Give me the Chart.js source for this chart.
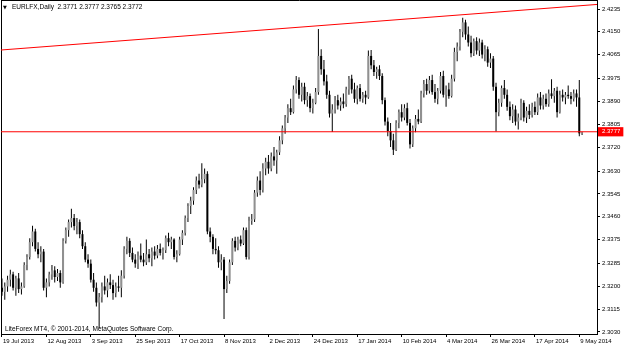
<!DOCTYPE html>
<html>
<head>
<meta charset="utf-8">
<script src="https://cdn.jsdelivr.net/npm/chart.js@4.4.1/dist/chart.umd.min.js"></script>
<style>
  html, body { margin: 0; padding: 0; background: #fff; }
  #wrap { position: relative; width: 625px; height: 347px; }
  #chart { position: absolute; left: 0; top: 0; }
  .txt { position: absolute; font-family: "Liberation Sans", Arial, sans-serif; color: #000; white-space: pre; line-height: 8px; }
</style>
</head>
<body>
<div id="wrap">
  <canvas id="chart" width="625" height="347"></canvas>
  <div class="txt" style="left:3px;top:3px;font-size:5px;font-family:'DejaVu Sans'">▼</div>
  <div class="txt" id="title" style="left:12px;top:3px;font-size:6.5px"></div>
  <div class="txt" style="left:5px;top:325px;font-size:6.55px">LiteForex MT4, © 2001-2014, MetaQuotes Software Corp.</div>
</div>
<script>
// daily bars, 19 Jul 2013 .. 12 May 2014
const opens = [
  2.3195, 2.3180, 2.3200, 2.3225, 2.3245, 2.3195, 2.3230, 2.3190, 2.3200, 2.3280,
  2.3310, 2.3365, 2.3405, 2.3340, 2.3320, 2.3330, 2.3195, 2.3215, 2.3245, 2.3260,
  2.3235, 2.3250, 2.3215, 2.3370, 2.3410, 2.3440, 2.3455, 2.3425, 2.3440, 2.3395,
  2.3350, 2.3300, 2.3285, 2.3225, 2.3195, 2.3140, 2.3160, 2.3200, 2.3185, 2.3215,
  2.3205, 2.3175, 2.3200, 2.3195, 2.3240, 2.3340, 2.3370, 2.3325, 2.3300, 2.3285,
  2.3315, 2.3300, 2.3290, 2.3320, 2.3305, 2.3330, 2.3315, 2.3340, 2.3325, 2.3335,
  2.3380, 2.3365, 2.3375, 2.3310, 2.3320, 2.3375, 2.3400, 2.3455, 2.3500, 2.3520,
  2.3560, 2.3595, 2.3580, 2.3600, 2.3620, 2.3405, 2.3385, 2.3340, 2.3335, 2.3290,
  2.3300, 2.3190, 2.3220, 2.3290, 2.3370, 2.3345, 2.3375, 2.3360, 2.3410, 2.3310,
  2.3445, 2.3450, 2.3550, 2.3595, 2.3560, 2.3640, 2.3665, 2.3640, 2.3685, 2.3670,
  2.3700, 2.3745, 2.3790, 2.3830, 2.3865, 2.3850, 2.3935, 2.3970, 2.3915, 2.3945,
  2.3895, 2.3910, 2.3865, 2.3885, 2.3925, 2.4060, 2.4010, 2.3965, 2.3915, 2.3845,
  2.3860, 2.3895, 2.3875, 2.3890, 2.3880, 2.3935, 2.3975, 2.3935, 2.3900, 2.3940,
  2.3900, 2.3915, 2.3905, 2.4060, 2.4025, 2.4000, 2.4010, 2.3985, 2.3895, 2.3815,
  2.3780, 2.3745, 2.3710, 2.3810, 2.3850, 2.3830, 2.3865, 2.3810, 2.3730, 2.3790,
  2.3825, 2.3815, 2.3920, 2.3955, 2.3930, 2.3970, 2.3925, 2.3900, 2.3930, 2.3985,
  2.3915, 2.3935, 2.3910, 2.3975, 2.4075, 2.4095, 2.4150, 2.4185, 2.4140, 2.4110,
  2.4070, 2.4115, 2.4080, 2.4110, 2.4065, 2.4085, 2.4035, 2.4050, 2.3945, 2.3850,
  2.3885, 2.3940, 2.3915, 2.3870, 2.3835, 2.3860, 2.3815, 2.3830, 2.3885, 2.3830,
  2.3855, 2.3840, 2.3870, 2.3850, 2.3905, 2.3875, 2.3900, 2.3880, 2.3920, 2.3910,
  2.3930, 2.3850, 2.3915, 2.3905, 2.3915, 2.3910, 2.3900, 2.3920, 2.3905, 2.3771
];
const highs = [
  2.3230, 2.3215, 2.3240, 2.3262, 2.3255, 2.3240, 2.3250, 2.3215, 2.3290, 2.3320,
  2.3380, 2.3426, 2.3415, 2.3365, 2.3350, 2.3340, 2.3230, 2.3255, 2.3280, 2.3275,
  2.3265, 2.3260, 2.3380, 2.3420, 2.3450, 2.3490, 2.3470, 2.3455, 2.3450, 2.3410,
  2.3365, 2.3320, 2.3300, 2.3250, 2.3215, 2.3175, 2.3215, 2.3240, 2.3230, 2.3245,
  2.3225, 2.3215, 2.3240, 2.3260, 2.3350, 2.3385, 2.3380, 2.3345, 2.3320, 2.3330,
  2.3360, 2.3325, 2.3375, 2.3340, 2.3345, 2.3350, 2.3355, 2.3360, 2.3345, 2.3390,
  2.3400, 2.3385, 2.3380, 2.3335, 2.3385, 2.3410, 2.3465, 2.3510, 2.3535, 2.3570,
  2.3610, 2.3620, 2.3660, 2.3640, 2.3630, 2.3420, 2.3395, 2.3380, 2.3350, 2.3320,
  2.3310, 2.3240, 2.3300, 2.3380, 2.3385, 2.3385, 2.3390, 2.3420, 2.3420, 2.3460,
  2.3470, 2.3560, 2.3610, 2.3630, 2.3660, 2.3680, 2.3690, 2.3700, 2.3720, 2.3710,
  2.3760, 2.3800, 2.3840, 2.3880, 2.3900, 2.3950, 2.3985, 2.3980, 2.3960, 2.3960,
  2.3925, 2.3920, 2.3900, 2.3940, 2.4160, 2.4085, 2.4045, 2.3990, 2.3930, 2.3880,
  2.3910, 2.3915, 2.3905, 2.3920, 2.3945, 2.3985, 2.3990, 2.3960, 2.3950, 2.3955,
  2.3925, 2.3930, 2.4080, 2.4082, 2.4045, 2.4020, 2.4025, 2.3995, 2.3905, 2.3830,
  2.3810, 2.3770, 2.3820, 2.3860, 2.3880, 2.3880, 2.3885, 2.3825, 2.3800, 2.3840,
  2.3860, 2.3930, 2.3970, 2.3975, 2.3985, 2.3990, 2.3955, 2.3940, 2.4000, 2.4005,
  2.3950, 2.3960, 2.3990, 2.4090, 2.4110, 2.4160, 2.4202, 2.4195, 2.4170, 2.4135,
  2.4125, 2.4130, 2.4125, 2.4120, 2.4100, 2.4095, 2.4070, 2.4060, 2.3960, 2.3900,
  2.3950, 2.3970, 2.3935, 2.3890, 2.3880, 2.3875, 2.3845, 2.3900, 2.3895, 2.3870,
  2.3880, 2.3885, 2.3890, 2.3920, 2.3925, 2.3915, 2.3920, 2.3935, 2.3973, 2.3940,
  2.3945, 2.3930, 2.3935, 2.3925, 2.3950, 2.3925, 2.3935, 2.3935, 2.3970, 2.3777
];
const lows = [
  2.3165, 2.3150, 2.3180, 2.3200, 2.3185, 2.3165, 2.3175, 2.3170, 2.3195, 2.3260,
  2.3300, 2.3350, 2.3330, 2.3305, 2.3290, 2.3185, 2.3160, 2.3200, 2.3225, 2.3215,
  2.3220, 2.3195, 2.3210, 2.3360, 2.3385, 2.3420, 2.3410, 2.3395, 2.3380, 2.3340,
  2.3290, 2.3270, 2.3215, 2.3180, 2.3125, 2.3045, 2.3140, 2.3170, 2.3160, 2.3190,
  2.3150, 2.3160, 2.3180, 2.3160, 2.3230, 2.3320, 2.3310, 2.3290, 2.3270, 2.3265,
  2.3290, 2.3275, 2.3280, 2.3290, 2.3275, 2.3300, 2.3305, 2.3315, 2.3300, 2.3325,
  2.3350, 2.3340, 2.3300, 2.3290, 2.3315, 2.3355, 2.3390, 2.3440, 2.3470, 2.3505,
  2.3545, 2.3565, 2.3570, 2.3585, 2.3395, 2.3365, 2.3320, 2.3320, 2.3270, 2.3260,
  2.3078, 2.3175, 2.3210, 2.3280, 2.3330, 2.3335, 2.3350, 2.3355, 2.3300, 2.3300,
  2.3430, 2.3440, 2.3535, 2.3540, 2.3550, 2.3615, 2.3620, 2.3630, 2.3650, 2.3620,
  2.3690, 2.3730, 2.3770, 2.3810, 2.3840, 2.3845, 2.3920, 2.3900, 2.3890, 2.3880,
  2.3870, 2.3850, 2.3845, 2.3880, 2.3915, 2.3990, 2.3950, 2.3900, 2.3830, 2.3776,
  2.3845, 2.3860, 2.3855, 2.3865, 2.3870, 2.3915, 2.3920, 2.3885, 2.3880, 2.3890,
  2.3885, 2.3880, 2.3900, 2.4010, 2.3985, 2.3975, 2.3970, 2.3880, 2.3800, 2.3760,
  2.3720, 2.3690, 2.3705, 2.3790, 2.3815, 2.3820, 2.3800, 2.3715, 2.3720, 2.3775,
  2.3805, 2.3810, 2.3905, 2.3915, 2.3920, 2.3915, 2.3885, 2.3880, 2.3920, 2.3905,
  2.3870, 2.3900, 2.3905, 2.3965, 2.4040, 2.4080, 2.4130, 2.4120, 2.4095, 2.4055,
  2.4060, 2.4065, 2.4060, 2.4050, 2.4040, 2.4020, 2.4015, 2.3930, 2.3778, 2.3835,
  2.3870, 2.3900, 2.3855, 2.3820, 2.3810, 2.3800, 2.3785, 2.3820, 2.3815, 2.3810,
  2.3825, 2.3830, 2.3840, 2.3840, 2.3860, 2.3860, 2.3870, 2.3870, 2.3900, 2.3885,
  2.3830, 2.3845, 2.3890, 2.3880, 2.3900, 2.3880, 2.3890, 2.3870, 2.3760, 2.3765
];
const closes = [
  2.3180, 2.3200, 2.3225, 2.3245, 2.3195, 2.3230, 2.3190, 2.3200, 2.3280, 2.3310,
  2.3365, 2.3405, 2.3340, 2.3320, 2.3330, 2.3195, 2.3215, 2.3245, 2.3260, 2.3235,
  2.3250, 2.3215, 2.3370, 2.3410, 2.3440, 2.3455, 2.3425, 2.3440, 2.3395, 2.3350,
  2.3300, 2.3285, 2.3225, 2.3195, 2.3140, 2.3160, 2.3200, 2.3185, 2.3215, 2.3205,
  2.3175, 2.3200, 2.3195, 2.3240, 2.3340, 2.3370, 2.3325, 2.3300, 2.3285, 2.3315,
  2.3300, 2.3290, 2.3320, 2.3305, 2.3330, 2.3315, 2.3340, 2.3325, 2.3335, 2.3380,
  2.3365, 2.3375, 2.3310, 2.3320, 2.3375, 2.3400, 2.3455, 2.3500, 2.3520, 2.3560,
  2.3595, 2.3580, 2.3600, 2.3620, 2.3405, 2.3385, 2.3340, 2.3335, 2.3290, 2.3300,
  2.3190, 2.3220, 2.3290, 2.3370, 2.3345, 2.3375, 2.3360, 2.3410, 2.3310, 2.3445,
  2.3450, 2.3550, 2.3595, 2.3560, 2.3640, 2.3665, 2.3640, 2.3685, 2.3670, 2.3700,
  2.3745, 2.3790, 2.3830, 2.3865, 2.3850, 2.3935, 2.3970, 2.3915, 2.3945, 2.3895,
  2.3910, 2.3865, 2.3885, 2.3925, 2.4060, 2.4010, 2.3965, 2.3915, 2.3845, 2.3860,
  2.3895, 2.3875, 2.3890, 2.3880, 2.3935, 2.3975, 2.3935, 2.3900, 2.3940, 2.3900,
  2.3915, 2.3905, 2.4060, 2.4025, 2.4000, 2.4010, 2.3985, 2.3895, 2.3815, 2.3780,
  2.3745, 2.3710, 2.3810, 2.3850, 2.3830, 2.3865, 2.3810, 2.3730, 2.3790, 2.3825,
  2.3815, 2.3920, 2.3955, 2.3930, 2.3970, 2.3925, 2.3900, 2.3930, 2.3985, 2.3915,
  2.3935, 2.3910, 2.3975, 2.4075, 2.4095, 2.4150, 2.4185, 2.4140, 2.4110, 2.4070,
  2.4115, 2.4080, 2.4110, 2.4065, 2.4085, 2.4035, 2.4050, 2.3945, 2.3850, 2.3885,
  2.3940, 2.3915, 2.3870, 2.3835, 2.3860, 2.3815, 2.3830, 2.3885, 2.3830, 2.3855,
  2.3840, 2.3870, 2.3850, 2.3905, 2.3875, 2.3900, 2.3880, 2.3920, 2.3910, 2.3930,
  2.3850, 2.3915, 2.3905, 2.3915, 2.3910, 2.3900, 2.3920, 2.3905, 2.3771, 2.3772
];

const dateTickBars = [0, 16, 32, 48, 64, 80, 96, 112, 128, 144, 160, 176, 192, 208];
const dateTickLabels = ["19 Jul 2013", "12 Aug 2013", "3 Sep 2013", "25 Sep 2013", "17 Oct 2013",
  "8 Nov 2013", "2 Dec 2013", "24 Dec 2013", "17 Jan 2014", "10 Feb 2014", "4 Mar 2014",
  "26 Mar 2014", "17 Apr 2014", "9 May 2014"];
const priceTicks = [2.4235, 2.4150, 2.4065, 2.3975, 2.3890, 2.3805, 2.3720, 2.3630,
  2.3545, 2.3460, 2.3375, 2.3285, 2.3200, 2.3115, 2.3030];

// drawn objects: horizontal level + trend line
const levelPrice = 2.3777;
const trendBars = [-0.36, 214.38];
const trendPrices = [2.4082, 2.4252];

const xMin = -0.36, xMax = 214.38;
const yMin = 2.30225, yMax = 2.42686;

const last = closes.length - 1;
document.getElementById("title").textContent = "EURLFX,Daily  " +
  [opens[last], highs[last], lows[last], closes[last]].map(v => v.toFixed(4)).join(" ");

const wickData = lows.map((lo, i) => ({ x: i, y: [lo, highs[i]] }));
const bodyData = opens.map((o, i) => ({ x: i, y: [o, closes[i]] }));
const bodyColors = opens.map((o, i) => closes[i] >= o ? "#909090" : "#000000");

const axisFont = { family: "Liberation Sans", size: 6 };

function noPad(s) {
  s.paddingLeft = 0; s.paddingRight = 0; s.paddingTop = 0; s.paddingBottom = 0;
}

new Chart(document.getElementById("chart"), {
  type: "bar",
  data: {
    datasets: [
      {
        type: "line",
        data: [{ x: xMin, y: levelPrice }, { x: xMax, y: levelPrice }],
        borderColor: "#ff0000", borderWidth: 1, pointRadius: 0,
        xAxisID: "x", yAxisID: "y", order: 0
      },
      {
        type: "line",
        data: [{ x: trendBars[0], y: trendPrices[0] }, { x: trendBars[1], y: trendPrices[1] }],
        borderColor: "#ff0000", borderWidth: 1, pointRadius: 0,
        xAxisID: "x", yAxisID: "y", order: 0
      },
      {
        data: bodyData,
        backgroundColor: bodyColors,
        barThickness: 2, minBarLength: 1, grouped: false, inflateAmount: 0,
        borderWidth: 0, xAxisID: "x", yAxisID: "y", order: 1
      },
      {
        data: wickData,
        backgroundColor: "#000000",
        barThickness: 1, grouped: false, inflateAmount: 0,
        borderWidth: 0, xAxisID: "x", yAxisID: "y", order: 2
      }
    ]
  },
  options: {
    responsive: false,
    animation: false,
    layout: { padding: 0 },
    plugins: { legend: { display: false }, tooltip: { enabled: false } },
    scales: {
      x: {
        type: "linear", position: "bottom", min: xMin, max: xMax, offset: false,
        grid: { drawOnChartArea: false, offset: false, color: "#000", tickLength: 3 },
        border: { color: "#000", width: 1 },
        ticks: {
          autoSkip: false, maxRotation: 0, align: "start", padding: 1, labelOffset: 1,
          color: "#000", font: axisFont,
          callback: (v) => {
            const k = dateTickBars.indexOf(v);
            return k < 0 ? "" : dateTickLabels[k];
          }
        },
        afterBuildTicks: (s) => { s.ticks = dateTickBars.map(v => ({ value: v })); },
        afterFit: (s) => { s.height = 13; noPad(s); }
      },
      y: {
        type: "linear", position: "right", min: yMin, max: yMax,
        grid: {
          drawOnChartArea: false, tickLength: 3,
          color: (c) => c.tick && c.tick.value === levelPrice ? "#ff0000" : "#000"
        },
        border: { color: "#000", width: 1 },
        ticks: {
          padding: 2, font: axisFont,
          color: (c) => c.tick && c.tick.value === levelPrice ? "#fff" : "#000",
          showLabelBackdrop: true,
          backdropColor: (c) => c.tick && c.tick.value === levelPrice ? "#ff0000" : "rgba(0,0,0,0)",
          backdropPadding: { left: 4, right: 3, top: 1, bottom: 1 },
          callback: (v) => v.toFixed(4)
        },
        afterBuildTicks: (s) => { s.ticks = priceTicks.concat([levelPrice]).map(v => ({ value: v })); },
        afterFit: (s) => { s.width = 28; noPad(s); }
      },
      xTop: {
        type: "linear", position: "top", min: xMin, max: xMax,
        grid: { display: false }, ticks: { display: false },
        border: { color: "#000", width: 1 },
        afterFit: (s) => { s.height = 0; noPad(s); }
      },
      yLeft: {
        type: "linear", position: "left", min: yMin, max: yMax,
        grid: { display: false }, ticks: { display: false },
        border: { color: "#000", width: 1 },
        afterFit: (s) => { s.width = 1; noPad(s); }
      }
    }
  }
});
</script>
</body>
</html>
